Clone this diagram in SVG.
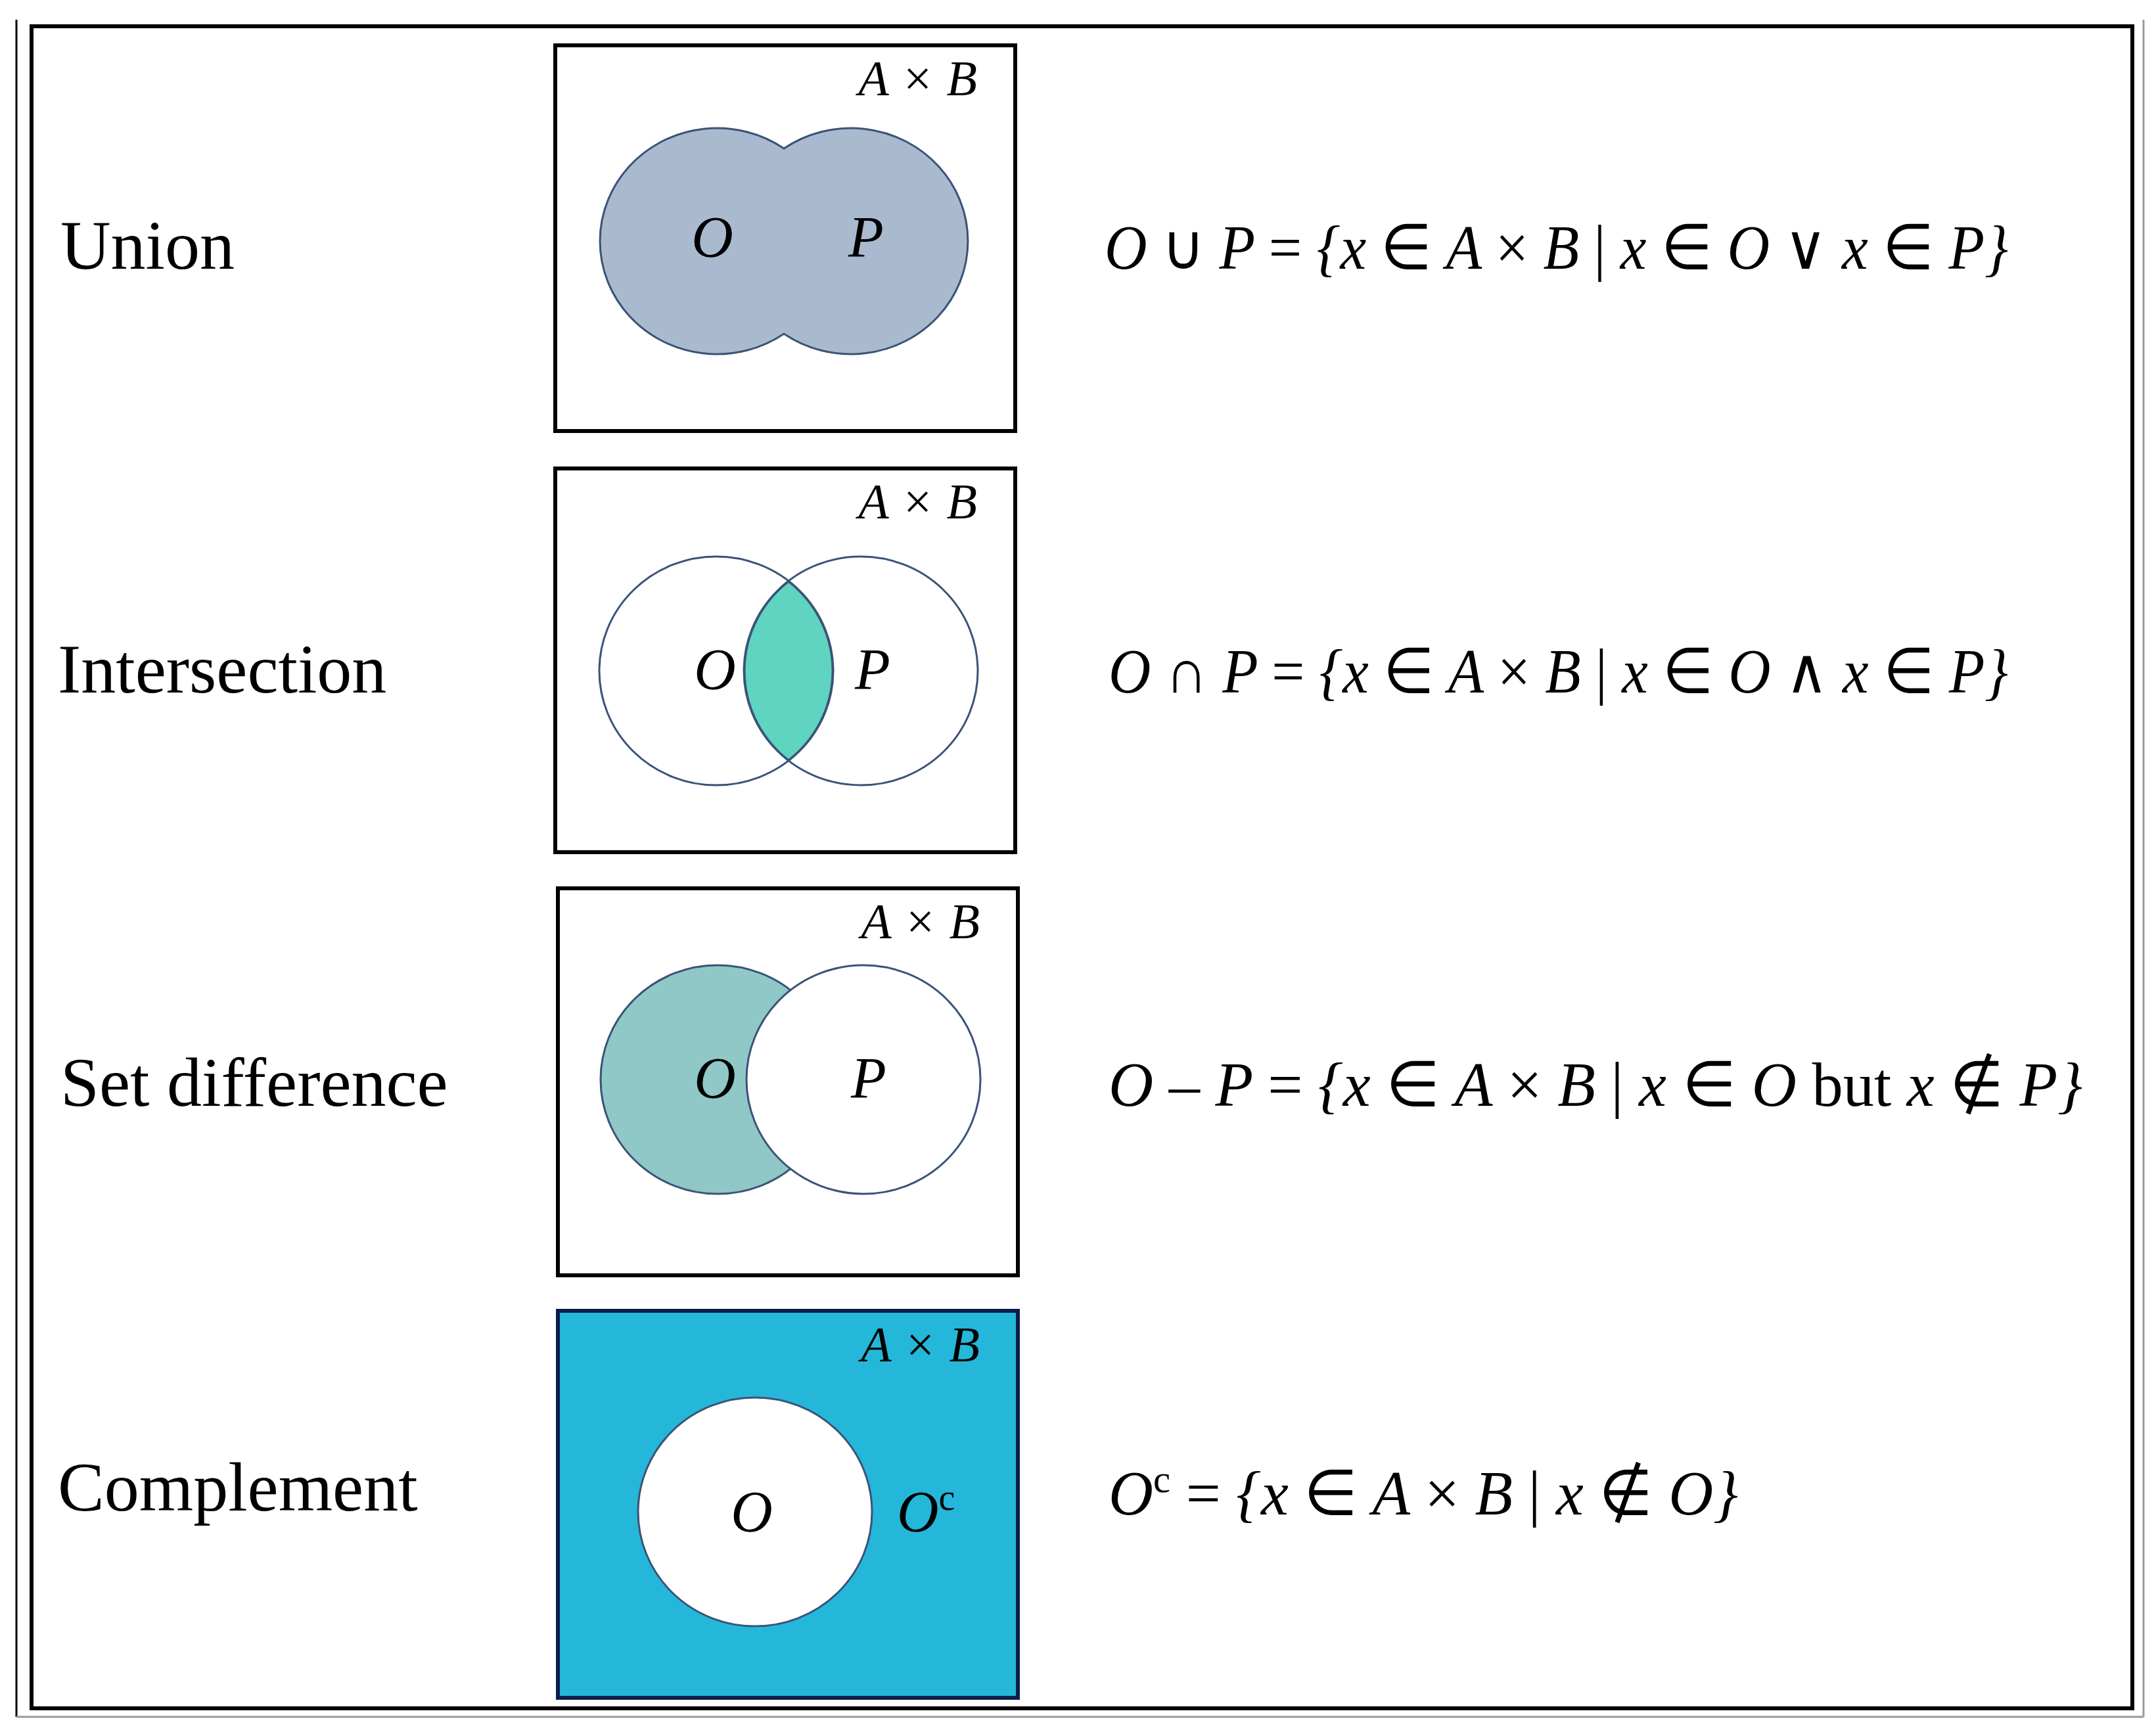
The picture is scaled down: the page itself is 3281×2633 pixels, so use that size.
<svg xmlns="http://www.w3.org/2000/svg" width="3281" height="2633" viewBox="0 0 3281 2633">
<style>
.box{fill:#fff;stroke:#000;stroke-width:6}
.c{stroke:#3b5378;stroke-width:3}
.lab{font-family:"Liberation Serif",serif;font-size:106px}
.m{font-family:"Liberation Serif",serif;font-style:italic;font-size:88px}
.ab{font-family:"Liberation Serif",serif;font-style:italic;font-size:76px;text-anchor:end}
.f{font-family:"Liberation Serif",serif;font-style:italic;font-size:96px}
.u{font-style:normal}
</style>
<rect width="3281" height="2633" fill="#fff"/>
<g id="frame">
<line x1="25" y1="30" x2="25" y2="2613" stroke="#000" stroke-width="3"/>
<line x1="25" y1="2613" x2="3262" y2="2613" stroke="#999" stroke-width="3"/>
<line x1="3262" y1="30" x2="3262" y2="2613" stroke="#999" stroke-width="3"/>
<rect x="48" y="40" width="3197" height="2560" fill="none" stroke="#000" stroke-width="6"/>
</g>
<g id="union">
<text class="lab" x="92" y="409">Union</text>
<rect class="box" x="845" y="69" width="700" height="587"/>
<text class="ab" x="1487" y="145">A × B</text>
<path d="M1193,226 A178,172 0 1 0 1193,508 A178,172 0 1 0 1193,226 Z" fill="#aabace" class="c"/>
<text class="m" x="1084" y="390" text-anchor="middle">O</text>
<text class="m" x="1318" y="390" text-anchor="middle">P</text>
<text class="f" x="1681" y="409" textLength="1375" lengthAdjust="spacingAndGlyphs">O <tspan class="u">∪</tspan> P <tspan class="u">=</tspan> {x <tspan class="u">∈</tspan> A <tspan class="u">×</tspan> B <tspan class="u">|</tspan> x <tspan class="u">∈</tspan> O <tspan class="u">∨</tspan> x <tspan class="u">∈</tspan> P}</text>
</g>
<g id="intersection">
<text class="lab" x="88" y="1054">Intersection</text>
<rect class="box" x="845" y="713" width="700" height="584"/>
<text class="ab" x="1487" y="789">A × B</text>
<ellipse cx="1090" cy="1021" rx="178" ry="174" fill="#fff" class="c"/>
<ellipse cx="1310" cy="1021" rx="178" ry="174" fill="none" class="c"/>
<path d="M1200,885 A178,174 0 0 1 1200,1157 A178,174 0 0 1 1200,885 Z" fill="#5fd4c0" class="c"/>
<text class="m" x="1088" y="1048" text-anchor="middle">O</text>
<text class="m" x="1328" y="1048" text-anchor="middle">P</text>
<text class="f" x="1687" y="1054" textLength="1369" lengthAdjust="spacingAndGlyphs">O <tspan class="u">∩</tspan> P <tspan class="u">=</tspan> {x <tspan class="u">∈</tspan> A <tspan class="u">×</tspan> B <tspan class="u">|</tspan> x <tspan class="u">∈</tspan> O <tspan class="u">∧</tspan> x <tspan class="u">∈</tspan> P}</text>
</g>
<g id="difference">
<text class="lab" x="92" y="1683">Set difference</text>
<rect class="box" x="849" y="1352" width="700" height="589"/>
<text class="ab" x="1491" y="1428">A × B</text>
<ellipse cx="1092" cy="1643" rx="178" ry="174" fill="#8fc8c6" class="c"/>
<ellipse cx="1314" cy="1643" rx="178" ry="174" fill="#fff" class="c"/>
<text class="m" x="1088" y="1670" text-anchor="middle">O</text>
<text class="m" x="1322" y="1670" text-anchor="middle">P</text>
<text class="f" x="1687" y="1683" textLength="1482" lengthAdjust="spacingAndGlyphs">O <tspan class="u">–</tspan> P <tspan class="u">=</tspan> {x <tspan class="u">∈</tspan> A <tspan class="u">×</tspan> B <tspan class="u">|</tspan> x <tspan class="u">∈</tspan> O <tspan class="u">but</tspan> x <tspan class="u">∉</tspan> P}</text>
</g>
<g id="complement">
<text class="lab" x="88" y="2299">Complement</text>
<rect x="849" y="1995" width="700" height="589" fill="#25b7d9" stroke="#0a1f4a" stroke-width="6"/>
<text class="ab" x="1491" y="2072">A × B</text>
<ellipse cx="1149" cy="2301" rx="178" ry="174" fill="#fff" class="c"/>
<text class="m" x="1144" y="2330" text-anchor="middle">O</text>
<text class="m" x="1365" y="2330">O<tspan font-size="56" font-style="normal" dy="-32">c</tspan></text>
<text class="f" x="1687" y="2305" textLength="958" lengthAdjust="spacingAndGlyphs">O<tspan font-size="60" font-style="normal" dy="-34">c</tspan><tspan dy="34"> <tspan class="u">=</tspan> {x <tspan class="u">∈</tspan> A <tspan class="u">×</tspan> B <tspan class="u">|</tspan> x <tspan class="u">∉</tspan> O}</tspan></text>
</g>
</svg>
